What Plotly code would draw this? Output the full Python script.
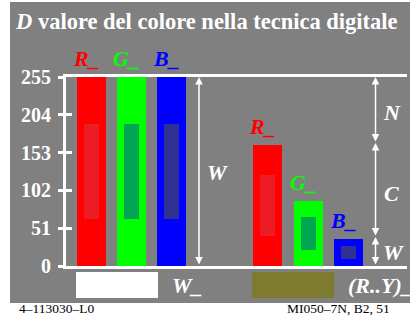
import plotly.graph_objects as go

# ---------------- data ----------------
channels = ["R_", "G_", "B_"]
white_values = [255, 255, 255]          # W_ : R, G, B digital values
white_inner_low = [64, 64, 64]
white_inner_high = [191, 191, 191]
olive_values = [163, 88, 36]            # (R..Y)_ : R, G, B digital values
olive_inner_low = [41, 22, 9]
olive_inner_high = [123, 66, 27]
tick_values = [0, 51, 102, 153, 204, 255]
tick_labels = ["0", "51", "102", "153", "204", "255"]
split_N_C = 166                          # boundary between N and C
split_C_W = 39                           # boundary between C and W

# ---------------- styling / layout constants ----------------
W_IMG, H_IMG = 413, 316
L, R_EDGE, TOP, BOT = 66, 407, 77, 266
PW, PH = R_EDGE - L, BOT - TOP
GRAY = "#808080"
FONT = "Liberation Serif"
outer_cols = ["#FF0000", "#00FF00", "#0000FF"]
inner_cols = ["#ED1C24", "#00A651", "#2E3192"]
left_x = [25.5, 65.5, 105.5]
right_x = [201.5, 242.5, 282.5]
BAR_W, INNER_W = 29, 15


def px(x):
    return (x - L) / PW


def py(y):
    return (BOT - y) / PH


fig = go.Figure()

for xs, vals, lo, hi in [(left_x, white_values, white_inner_low, white_inner_high),
                         (right_x, olive_values, olive_inner_low, olive_inner_high)]:
    fig.add_trace(go.Bar(x=xs, y=vals, width=BAR_W, marker=dict(color=outer_cols, line_width=0),
                         showlegend=False, hoverinfo="skip"))
    fig.add_trace(go.Bar(x=xs, y=[h - l for h, l in zip(hi, lo)], base=lo, width=INNER_W,
                         marker=dict(color=inner_cols, line_width=0),
                         showlegend=False, hoverinfo="skip"))

annotations = []
# title
annotations.append(dict(xref="paper", yref="paper", x=px(13), y=py(21), xanchor="left", yanchor="middle",
                        text="<b><i>D</i> valore del colore nella tecnica digitale</b>", showarrow=False,
                        font=dict(family=FONT, size=22.5, color="white")))
# channel labels above bars
for xs, vals in [(left_x, white_values), (right_x, olive_values)]:
    for xc, v, name, col in zip(xs, vals, channels, outer_cols):
        annotations.append(dict(x=xc - 5, y=v, xref="x", yref="y", yanchor="bottom", yshift=4,
                                text=f"<b><i>{name}</i></b>", showarrow=False,
                                font=dict(family=FONT, size=22, color=col)))

# double-headed arrows
def arrow(xpix, y0, y1):
    return dict(x=xpix - L, y=y1, ax=xpix - L, ay=y0, xref="x", yref="y", axref="x", ayref="y",
                text="", showarrow=True, arrowside="end+start", arrowhead=2, arrowsize=1,
                arrowwidth=1.5, arrowcolor="white", standoff=0, startstandoff=0)

annotations.append(arrow(199, 0, 255))
annotations.append(arrow(375.5, split_N_C, 255))
annotations.append(arrow(375.5, split_C_W, split_N_C))
annotations.append(arrow(375.5, 0, split_C_W))

def label(xpix, ypix, text, size=22, color="white", anchor="center"):
    return dict(xref="paper", yref="paper", x=px(xpix), y=py(ypix), xanchor=anchor, yanchor="middle",
                text=text, showarrow=False, font=dict(family=FONT, size=size, color=color))

annotations.append(label(217, 172, "<b><i>W</i></b>"))
annotations.append(label(392, 112, "<b><i>N</i></b>"))
annotations.append(label(391, 193, "<b><i>C</i></b>"))
annotations.append(label(393, 252, "<b><i>W</i></b>"))
annotations.append(label(170, 285, "<b><i>W_</i></b>", anchor="left"))
annotations.append(label(346, 285, "<b><i>(R..Y)_</i></b>", anchor="left"))
annotations.append(label(17, 308, "4\u2013113030\u2013L0", size=13.5, color="black", anchor="left"))
annotations.append(label(285, 308, "MI050\u20137N, B2, 51", size=13.5, color="black", anchor="left"))

shapes = [
    dict(type="rect", xref="paper", yref="paper", x0=px(10), x1=px(410), y0=py(303), y1=py(2),
         fillcolor=GRAY, line_width=0, layer="below"),
    dict(type="rect", xref="paper", yref="paper", x0=px(76), x1=px(158), y0=py(298), y1=py(272),
         fillcolor="white", line_width=0),
    dict(type="rect", xref="paper", yref="paper", x0=px(252), x1=px(334), y0=py(298), y1=py(272),
         fillcolor="#7E7A2E", line_width=0),
]

fig.update_layout(
    width=W_IMG, height=H_IMG,
    margin=dict(l=L, r=W_IMG - R_EDGE, t=TOP, b=H_IMG - BOT, pad=0),
    paper_bgcolor="white", plot_bgcolor="rgba(0,0,0,0)",
    barmode="overlay", bargap=0,
    xaxis=dict(range=[0, PW], showgrid=False, zeroline=False, showticklabels=False, ticks="",
               showline=True, mirror=True, linecolor="white", linewidth=3, fixedrange=True),
    yaxis=dict(range=[0, 255], tickvals=tick_values, ticktext=tick_labels, showgrid=False, zeroline=False,
               ticks="outside", ticklen=5, tickwidth=3, tickcolor="white",
               showline=True, linecolor="white", linewidth=3,
               tickfont=dict(family=FONT, size=20, color="white", weight="bold"), ticklabelstandoff=3),
    yaxis2=dict(range=[0, 255], overlaying="y", side="left", tickvals=tick_values, showticklabels=False,
                ticks="inside", ticklen=6, tickwidth=3, tickcolor="white", showgrid=False, zeroline=False),
    annotations=annotations, shapes=shapes, showlegend=False,
)
fig.add_trace(go.Scatter(x=[None], y=[None], yaxis="y2", showlegend=False, hoverinfo="skip"))

fig.write_html("out.html", config={"displayModeBar": False},
               post_script="document.body.style.margin='0';document.body.style.padding='0';")
